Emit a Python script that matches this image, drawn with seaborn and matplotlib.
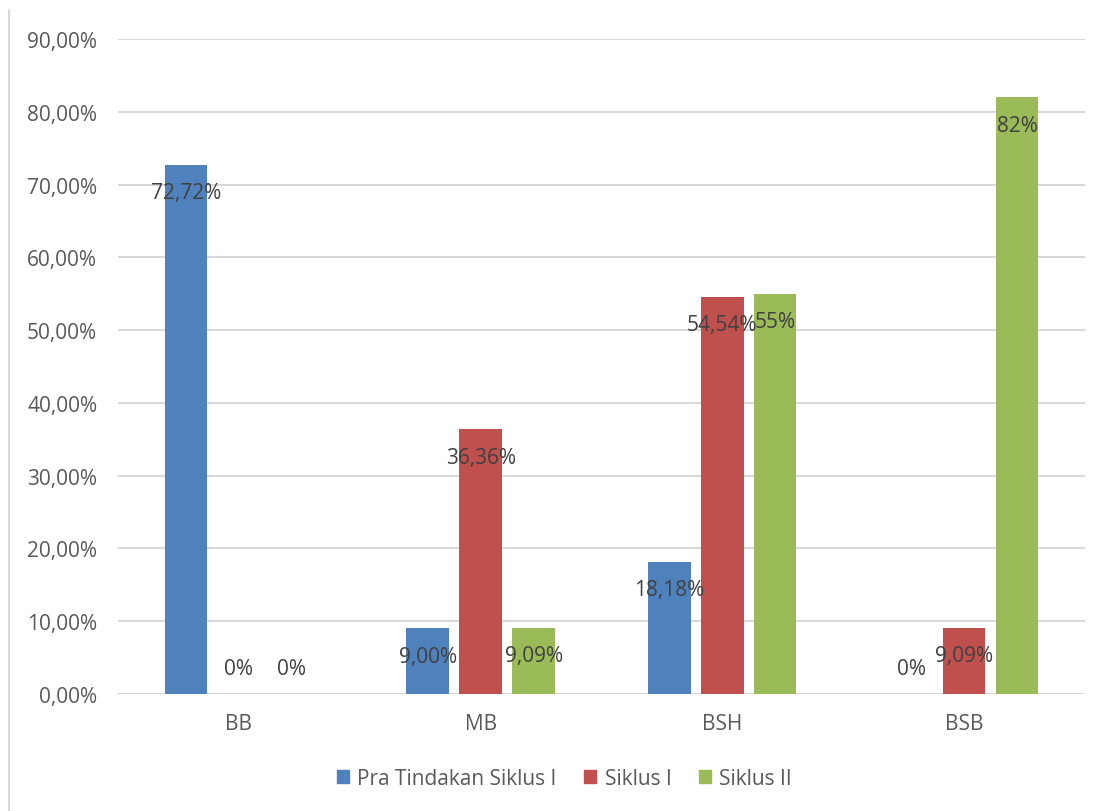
import pandas as pd
import matplotlib.pyplot as plt
import matplotlib.lines as mlines
import seaborn as sns

categories = ['BB', 'MB', 'BSH', 'BSB']
series = ['Pra Tindakan Siklus I', 'Siklus I', 'Siklus II']
pra = [72.72, 9.00, 18.18, 0]
siklus1 = [0, 36.36, 54.54, 9.09]
siklus2 = [0, 9.09, 55, 82]
labels_pra = ['72,72%', '9,00%', '18,18%', '0%']
labels_s1 = ['0%', '36,36%', '54,54%', '9,09%']
labels_s2 = ['0%', '9,09%', '55%', '82%']
yticks = [0, 10, 20, 30, 40, 50, 60, 70, 80, 90]
colors = ['#4F81BD', '#C0504D', '#9BBB59']

df = pd.DataFrame({
    'kategori': categories * 3,
    'seri': [s for s in series for _ in categories],
    'nilai': pra + siklus1 + siklus2,
})

sns.set_theme(style='white')
plt.rcParams['font.family'] = ['Open Sans', 'DejaVu Sans']

fig = plt.figure(figsize=(11.11, 8.12), dpi=100)
ax = fig.add_axes([0.1062, 0.1441, 0.8704, 0.8066])

sns.barplot(data=df, x='kategori', y='nilai', hue='seri', order=categories,
            hue_order=series, palette=colors, width=0.657, gap=0.2,
            saturation=1, linewidth=0, legend=False, ax=ax, zorder=3)

ax.set_xlim(-0.5, 3.5)
ax.set_ylim(0, 90)
ax.set_yticks(yticks)
ax.set_yticklabels([f'{v},00%' for v in yticks])
ax.yaxis.grid(True, color='#D9D9D9', linewidth=1.5, zorder=0)
ax.set_axisbelow(True)
for s in ax.spines.values():
    s.set_visible(False)
ax.tick_params(axis='both', length=0, labelsize=15, labelcolor='#595959')
ax.tick_params(axis='y', pad=15)
ax.tick_params(axis='x', pad=14)
ax.set_xlabel('')
ax.set_ylabel('')

all_labels = [labels_pra, labels_s1, labels_s2]
for cont, labs in zip(ax.containers, all_labels):
    for bar, lab in zip(cont, labs):
        h = bar.get_height()
        x = bar.get_x() + bar.get_width() / 2
        off = 18 if h == 0 else -20
        ax.annotate(lab, (x, h), xytext=(0, off), textcoords='offset points',
                    ha='center', va='center', fontsize=15, color='#404040',
                    zorder=5)

handles = [plt.Rectangle((0, 0), 1, 1, color=c) for c in colors]
fig.legend(handles, series, loc='center', bbox_to_anchor=(0.508, 0.0406),
           ncol=3, frameon=False, fontsize=15, handlelength=0.6,
           handleheight=0.6, columnspacing=1.3, handletextpad=0.4,
           labelcolor='#595959')

fig.add_artist(mlines.Line2D([0.0085, 0.0085], [0, 0.986], color='#D9D9D9',
                             linewidth=1.5, transform=fig.transFigure))

fig.savefig('out.png', dpi=100)
